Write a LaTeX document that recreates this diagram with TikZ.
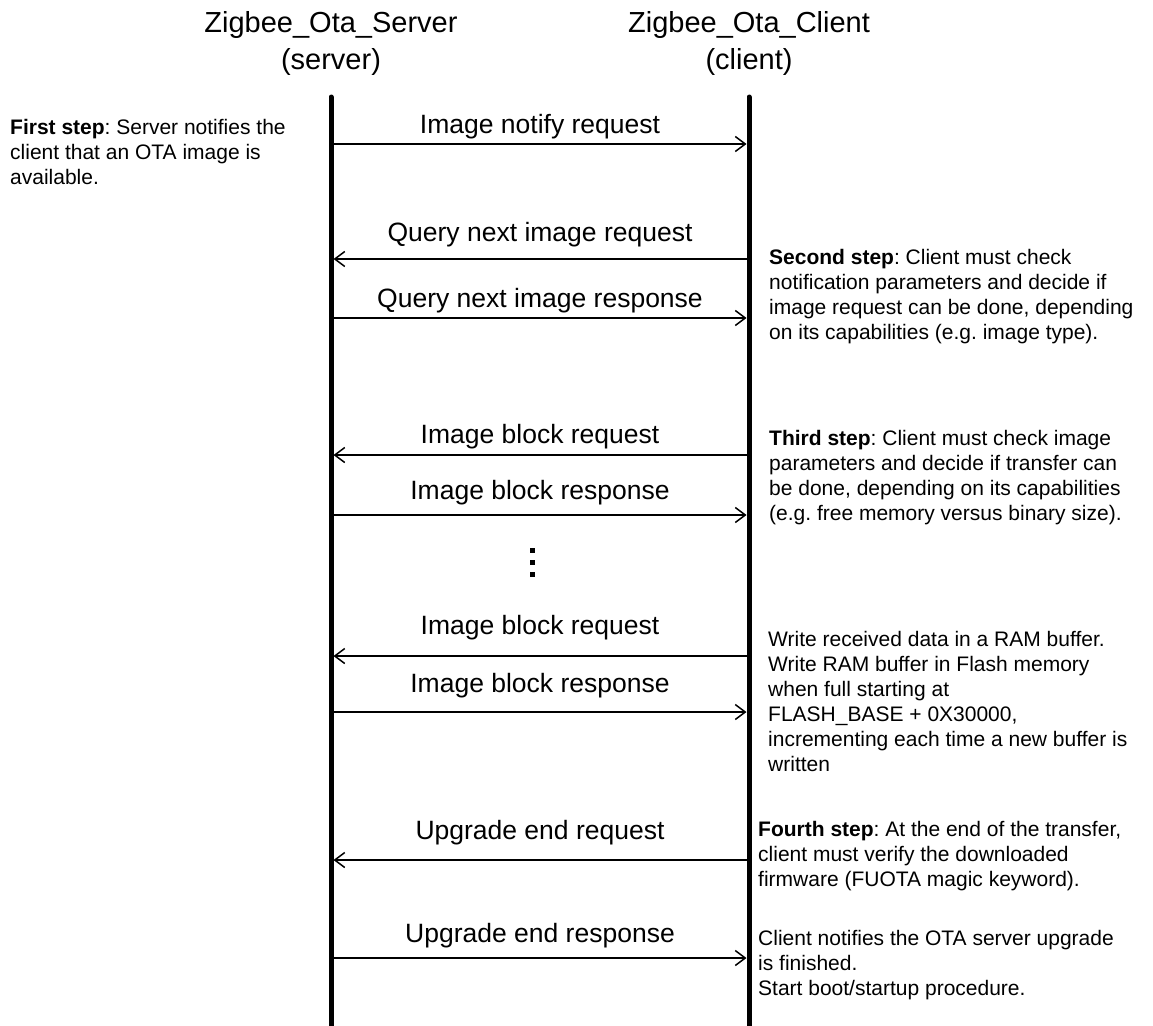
\documentclass[tikz,border=0pt]{standalone}
\usepackage{fontspec}
\setmainfont{Liberation Sans}
\usetikzlibrary{arrows.meta}
\frenchspacing
\begin{document}
\frenchspacing
\begin{tikzpicture}[x=1pt,y=-1pt,
  lifeline/.style={line width=5pt,line cap=round},
  msg/.style={line width=1.8pt,-{Straight Barb[length=10pt,width=15pt,line width=1.5pt]},shorten <=2.5pt,shorten >=2.5pt},
  msglabel/.style={inner sep=0pt,font=\fontsize{26.5}{30}\selectfont},
  title/.style={inner sep=0pt,align=center,font=\fontsize{29}{37}\selectfont,anchor=north},
  note/.style={inner sep=0pt,align=left,anchor=north west,font=\fontsize{21}{25}\selectfont\frenchspacing}]
\fill[white] (0,0) rectangle (1153,1025);
\useasboundingbox (0,0) rectangle (1153,1025);

% participants
\node[title] (tserver) at (331,11) {Zigbee\_Ota\_Server\\(server)};
\node[title] (tclient) at (749,11) {Zigbee\_Ota\_Client\\(client)};

% lifelines
\coordinate (stop) at (331,97);
\coordinate (sbot) at (331,1030);
\coordinate (ctop) at (749,97);
\coordinate (cbot) at (749,1030);
\draw[lifeline] (stop) -- (sbot);
\draw[lifeline] (ctop) -- (cbot);

% message end points
\foreach \n/\y in {1/144,2/259,3/318,4/455,5/515,6/656,7/712,8/860,9/958}{
  \coordinate (s\n) at (331,\y);
  \coordinate (c\n) at (749,\y);
}

\draw[msg] (s1) -- (c1);
\node[msglabel] (m1) at (540,127) {Image notify request};
\draw[msg] (c2) -- (s2);
\node[msglabel] (m2) at (540,235) {Query next image request};
\draw[msg] (s3) -- (c3);
\node[msglabel] (m3) at (540,301) {Query next image response};
\draw[msg] (c4) -- (s4);
\node[msglabel] (m4) at (540,437) {Image block request};
\draw[msg] (s5) -- (c5);
\node[msglabel] (m5) at (540,493) {Image block response};
\draw[msg] (c6) -- (s6);
\node[msglabel] (m6) at (540,628) {Image block request};
\draw[msg] (s7) -- (c7);
\node[msglabel] (m7) at (540,686) {Image block response};
\draw[msg] (c8) -- (s8);
\node[msglabel] (m8) at (540,833) {Upgrade end request};
\draw[msg] (s9) -- (c9);
\node[msglabel] (m9) at (540,936) {Upgrade end response};

% continuation dots
\foreach \y in {550,562,574}{
  \fill (529.5,\y-2.5) rectangle (534.5,\y+2.5);
}

% notes
\node[note] (n1) at (10,119) {\textbf{First step}: Server notifies the\\client that an OTA image is\\available.};
\node[note] (n2) at (769,249) {\textbf{Second step}: Client must check\\notification parameters and decide if\\image request can be done, depending\\on its capabilities (e.g. image type).};
\node[note] (n3) at (769,430) {\textbf{Third step}: Client must check image\\parameters and decide if transfer can\\be done, depending on its capabilities\\(e.g. free memory versus binary size).};
\node[note] (n4) at (768,631) {Write received data in a RAM buffer.\\Write RAM buffer in Flash memory\\when full starting at\\FLASH\_BASE + 0X30000,\\incrementing each time a new buffer is\\written};
\node[note] (n5) at (758,821) {\textbf{Fourth step}: At the end of the transfer,\\client must verify the downloaded\\firmware (FUOTA magic keyword).};
\node[note] (n6) at (758,930) {Client notifies the OTA server upgrade\\is finished.\\Start boot/startup procedure.};
\end{tikzpicture}
\end{document}
